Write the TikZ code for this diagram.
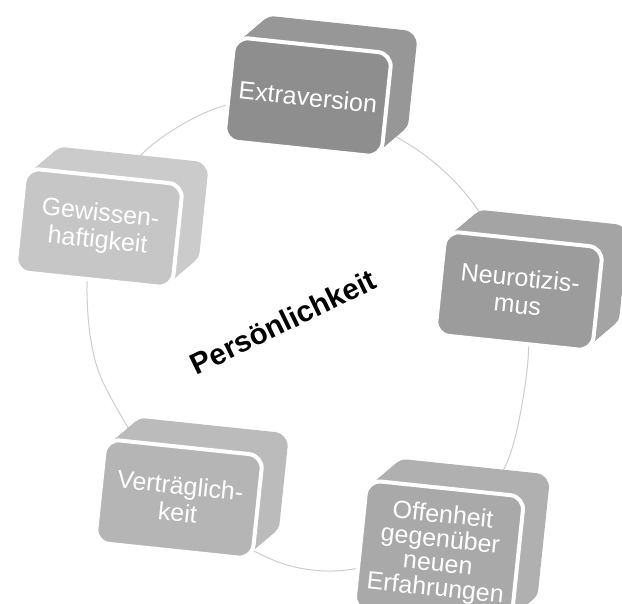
\documentclass[tikz,border=0pt]{standalone}
\usepackage{fontspec}
\setmainfont{Liberation Sans}
\definecolor{extracol}{HTML}{8E8E8E}
\definecolor{neurocol}{HTML}{9C9C9C}
\definecolor{offencol}{HTML}{A9A9A9}
\definecolor{vertrcol}{HTML}{B5B5B5}
\definecolor{gewisscol}{HTML}{C6C6C6}
\definecolor{ringcol}{HTML}{CDCDCD}
\tikzset{
    facebox/.style={rectangle, rounded corners=14pt, rotate=-6, minimum width=158pt, inner sep=0pt},
    facetext/.style={text=white, align=center}
}
\begin{document}
\begin{tikzpicture}[x=1pt,y=1pt]
    \useasboundingbox (0,0) rectangle (622,-604);
    \clip (0,0) rectangle (622,-604);
    \draw [ringcol, line width=1pt] plot[smooth cycle] coordinates {(308,-97) (413,-147) (473,-203) (519,-291) (528,-360) (505,-467) (439,-539) (347,-570) (273,-560) (179,-499) (102,-380) (87,-293) (99,-228) (143,-153) (217,-108)};
    \foreach \name/\x/\y/\h/\lead/\txt in {extra/308/97/104/27/Extraversion, neuro/519/291/104/27/{Neurotizis-\\mus}, offen/439/553/130/24.5/{Offenheit\\gegenüber\\neuen\\Erfahrungen}, vertr/179/499/104/27/{Verträglich-\\keit}, gewiss/99/228/104/27/{Gewissen-\\haftigkeit}}
        {\foreach \t in {26,25,...,1}
            \node[facebox, minimum height=\h pt, fill=\name col!92!white] (\name-\t) at (\x+\t, -\y+\t*22/26) {};
        \node[facebox, minimum height=\h pt, fill=\name col, draw=white, line width=4pt, facetext, font=\fontsize{25}{\lead}\selectfont] (\name) at (\x,-\y) {\txt};}
    \node[rotate=26, font=\bfseries\fontsize{29.5}{31}\selectfont] (pers) at (283,-322) {Persönlichkeit};
\end{tikzpicture}
\end{document}
